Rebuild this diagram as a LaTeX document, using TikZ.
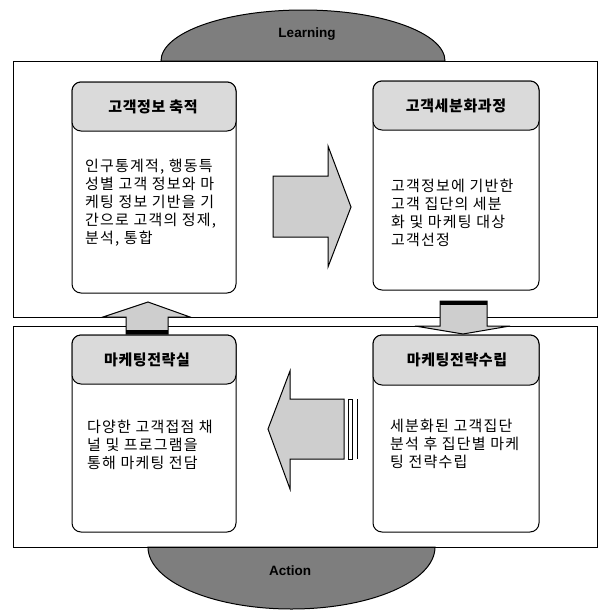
\documentclass[tikz,border=0pt]{standalone}
\usepackage{fontspec}
\setmainfont{Liberation Sans}
\newfontfamily\krbody[LetterSpace=8]{Noto Sans CJK KR}
\newfontfamily\krhead[LetterSpace=4]{Noto Sans CJK KR}
\definecolor{blobgray}{RGB}{126,126,126}
\definecolor{headgray}{RGB}{218,218,218}
\definecolor{arrowgray}{RGB}{206,206,206}
\tikzset{
  panel/.style={draw, line width=0.9pt},
  card/.style={draw, fill=white, rounded corners=9pt, line width=1pt},
  cardhead/.style={draw, fill=headgray, rounded corners=9pt, line width=1pt},
  blob/.style={draw, fill=blobgray, line width=1pt},
  fat/.style={draw, fill=arrowgray, line width=1pt},
  headtext/.style={font=\krhead\bfseries\fontsize{15}{18}\selectfont},
  bodytext/.style={font=\krbody\fontsize{15}{18}\selectfont, align=left, anchor=north west, inner sep=0pt},
  blobtext/.style={font=\bfseries\fontsize{13.5}{16}\selectfont}
}
\begin{document}
\begin{tikzpicture}[x=1pt,y=-1pt]
\useasboundingbox[fill=white] (0,0) rectangle (599,611);
\draw[blob] (161,61) arc[start angle=180, end angle=0, x radius=142pt, y radius=51pt] -- cycle;
\draw[blob] (148,547) arc[start angle=180, end angle=360, x radius=143.5pt, y radius=62pt] -- cycle;
\node[blobtext] (learn) at (307,34) {Learning};
\node[blobtext] (act) at (290,571) {Action};
\draw[panel] (13,61) rectangle (597,317);
\draw[panel] (13,326) rectangle (597,547);
\draw[card] (72,82) rectangle (236,293);
\draw[cardhead] (72,82) rectangle (236,131);
\draw[card] (373,81) rectangle (539,290);
\draw[cardhead] (373,81) rectangle (539,130);
\draw[card] (72,335) rectangle (236,532);
\draw[cardhead] (72,335) rectangle (236,384);
\draw[card] (373,335) rectangle (539,532);
\draw[cardhead] (373,335) rectangle (539,385);
\node[headtext] (collect) at (153,107) {고객정보 축적};
\node[headtext] (segment) at (456,106) {고객세분화과정};
\node[headtext] (office) at (147,360) {마케팅전략실};
\node[headtext] (plan) at (457,360) {마케팅전략수립};
\node[bodytext] (collectbody) at (85,159) {인구통계적, 행동특\\성별 고객 정보와 마\\케팅 정보 기반을 기\\간으로 고객의 정제,\\분석, 통합};
\node[bodytext] (segmentbody) at (391,179) {고객정보에 기반한\\고객 집단의 세분\\화 및 마케팅 대상\\고객선정};
\node[bodytext] (officebody) at (87,420) {다양한 고객접점 채\\널 및 프로그램을\\통해 마케팅 전담};
\node[bodytext] (planbody) at (390,419) {세분화된 고객집단\\분석 후 집단별 마케\\팅 전략수립};
\draw[fat] (273,176) -- (328,176) -- (328,146) -- (351,207) -- (328,267) -- (328,237) -- (273,237) -- cycle;
\draw[fat] (344,399) -- (290,399) -- (290,371) -- (268,429) -- (290,489) -- (290,459) -- (344,459) -- cycle;
\draw[line width=1pt] (348,399) rectangle (352,459);
\draw[line width=1pt] (357,399) -- (357,459);
\draw[fat] (126,334) -- (126,317) -- (103,317) -- (148,302) -- (190,317) -- (168,317) -- (168,334) -- cycle;
\fill (126,330) rectangle (168,334);
\draw[fat] (440,301) -- (487,301) -- (487,326) -- (510,326) -- (463,334) -- (415,326) -- (440,326) -- cycle;
\fill (440,301) rectangle (487,305);
\end{tikzpicture}
\end{document}
